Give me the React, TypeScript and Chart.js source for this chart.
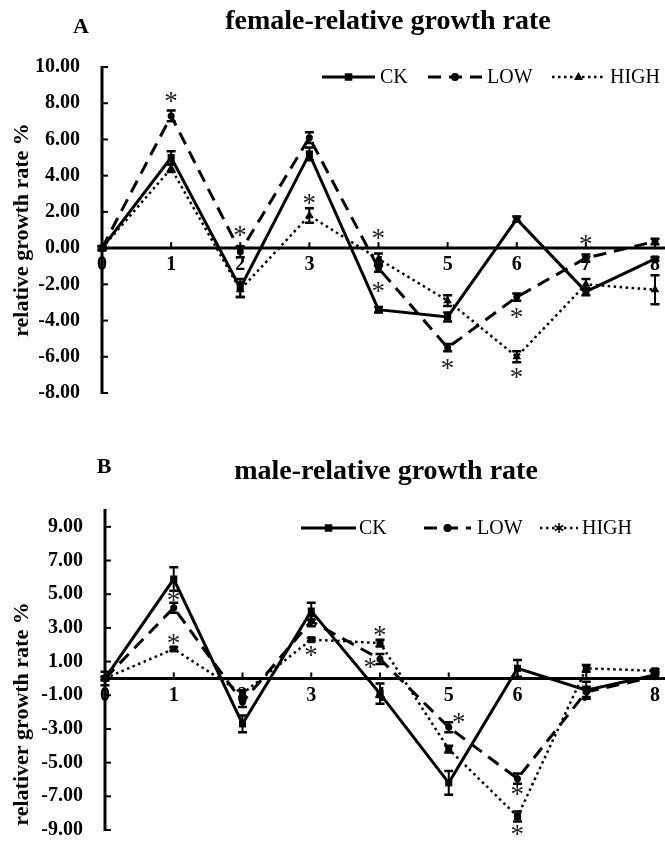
import React, { useEffect, useRef } from 'react';
import { Chart, registerables } from 'chart.js';

Chart.register(...registerables);

// ---------- data ----------
const xValues = [0, 1, 2, 3, 4, 5, 6, 7, 8];
const seriesNames = ['CK', 'LOW', 'HIGH'];

// A: female
const femaleYTicks = [10, 8, 6, 4, 2, 0, -2, -4, -6, -8];
const femaleCK = [0, 5.0, -2.2, 5.2, -3.4, -3.8, 1.6, -2.4, -0.6];
const femaleCKErr = [0.1, 0.35, 0.5, 0.35, 0.15, 0.25, 0.15, 0.2, 0.1];
const femaleLOW = [0, 7.3, -0.2, 6.1, -1.1, -5.5, -2.7, -0.55, 0.37];
const femaleLOWErr = [0.1, 0.3, 0.3, 0.3, 0.2, 0.2, 0.2, 0.2, 0.15];
const femaleHIGH = [0, 4.4, -2.3, 1.8, -0.6, -2.9, -6.0, -2.0, -2.3];
const femaleHIGHErr = [0.1, 0.2, 0.4, 0.4, 0.3, 0.3, 0.3, 0.3, 0.8];
const femaleStarX = [1, 2, 3, 4, 4, 5, 6, 6, 7];
const femaleStarY = [8.3, 0.9, 2.7, 0.75, -2.2, -6.4, -3.6, -6.9, 0.4];

// B: male
const maleYTicks = [9, 7, 5, 3, 1, -1, -3, -5, -7, -9];
const maleCK = [0, 5.9, -2.7, 4.0, -0.9, -6.2, 0.6, -0.7, 0.2];
const maleCKErr = [0.4, 0.7, 0.5, 0.5, 0.6, 0.7, 0.5, 0.5, 0.2];
const maleLOW = [0, 4.2, -1.4, 3.4, 1.15, -2.9, -5.95, -0.8, 0.1];
const maleLOWErr = [0.1, 0.3, 0.3, 0.3, 0.3, 0.3, 0.3, 0.3, 0.1];
const maleHIGH = [0, 1.75, -0.9, 2.3, 2.1, -4.2, -8.2, 0.6, 0.45];
const maleHIGHErr = [0.1, 0.1, 0.2, 0.1, 0.2, 0.2, 0.3, 0.2, 0.1];
const maleStarX = [1, 1, 3, 3.86, 4, 5.15, 6, 6];
const maleStarY = [4.85, 2.3, 1.6, 0.9, 2.8, -2.4, -6.65, -9.0];

const SERIF = "'Liberation Serif', 'Times New Roman', serif";

type PanelCfg = {
  letter: string;
  title: string;
  yTitle: string;
  yTicks: number[];
  yMin: number;
  yMax: number;
  series: number[][];
  errors: number[][];
  markers: string[];
  legendMarkers: string[];
  starX: number[];
  starY: number[];
  layout: {
    padTop: number;
    padBottom: number;
    padRight: number;
    axisWidth: number;
    letterX: number;
    letterY: number;
    titleX: number;
    titleY: number;
    yTitleX: number;
    yTitleY: number;
    legendY: number;
    legend: { start: number; len: number; textX: number }[];
  };
};

const lineStyles = [
  { width: 3, dash: [] as number[] },
  { width: 3, dash: [13, 8] },
  { width: 2.5, dash: [2.5, 3.5] },
];

function drawMarker(ctx: CanvasRenderingContext2D, style: string, x: number, y: number, r: number) {
  ctx.save();
  ctx.fillStyle = '#000';
  ctx.strokeStyle = '#000';
  ctx.setLineDash([]);
  ctx.beginPath();
  if (style === 'rect') {
    const s = r * 0.75;
    ctx.rect(x - s, y - s, 2 * s, 2 * s);
    ctx.fill();
  } else if (style === 'circle') {
    ctx.arc(x, y, r * 0.8, 0, Math.PI * 2);
    ctx.fill();
  } else if (style === 'triangle') {
    ctx.moveTo(x, y - r);
    ctx.lineTo(x + r * 0.9, y + r * 0.6);
    ctx.lineTo(x - r * 0.9, y + r * 0.6);
    ctx.closePath();
    ctx.fill();
  } else if (style === 'star') {
    ctx.lineWidth = 1.5;
    for (let k = 0; k < 3; k++) {
      const a = (k * Math.PI) / 3 + Math.PI / 2;
      ctx.moveTo(x + Math.cos(a) * r, y + Math.sin(a) * r);
      ctx.lineTo(x - Math.cos(a) * r, y - Math.sin(a) * r);
    }
    ctx.stroke();
  }
  ctx.restore();
}

function makeDecor(cfg: PanelCfg) {
  const L = cfg.layout;
  return {
    id: 'decor' + cfg.letter,
    beforeDatasetsDraw(chart: any) {
      const ctx: CanvasRenderingContext2D = chart.ctx;
      const area = chart.chartArea;
      const xs = chart.scales.x;
      const ys = chart.scales.y;
      ctx.save();
      ctx.strokeStyle = '#000';
      ctx.setLineDash([]);
      // y axis line
      ctx.lineWidth = 3;
      ctx.beginPath();
      ctx.moveTo(area.left, ys.getPixelForValue(cfg.yMax) - 1);
      ctx.lineTo(area.left, area.bottom + 1);
      ctx.stroke();
      // y ticks (inside)
      ctx.lineWidth = 2;
      cfg.yTicks.forEach((v) => {
        const py = ys.getPixelForValue(v);
        ctx.beginPath();
        ctx.moveTo(area.left, py);
        ctx.lineTo(area.left + 6, py);
        ctx.stroke();
      });
      // x axis line at 0
      const y0 = ys.getPixelForValue(0);
      ctx.lineWidth = 3;
      ctx.beginPath();
      ctx.moveTo(area.left, y0);
      ctx.lineTo(chart.width, y0);
      ctx.stroke();
      // x ticks (upward)
      ctx.lineWidth = 2;
      xValues.slice(1).forEach((v) => {
        const px = xs.getPixelForValue(v);
        ctx.beginPath();
        ctx.moveTo(px, y0);
        ctx.lineTo(px, y0 - 6);
        ctx.stroke();
      });
      // error bars
      cfg.series.forEach((s, si) => {
        const err = cfg.errors[si];
        s.forEach((v, i) => {
          const px = xs.getPixelForValue(xValues[i]);
          const top = ys.getPixelForValue(v + err[i]);
          const bot = ys.getPixelForValue(v - err[i]);
          ctx.lineWidth = 2;
          ctx.beginPath();
          ctx.moveTo(px, top);
          ctx.lineTo(px, bot);
          ctx.stroke();
          ctx.lineWidth = 2.5;
          ctx.beginPath();
          ctx.moveTo(px - 4.5, top);
          ctx.lineTo(px + 4.5, top);
          ctx.moveTo(px - 4.5, bot);
          ctx.lineTo(px + 4.5, bot);
          ctx.stroke();
        });
      });
      ctx.restore();
    },
    afterDatasetsDraw(chart: any) {
      const ctx: CanvasRenderingContext2D = chart.ctx;
      const xs = chart.scales.x;
      const ys = chart.scales.y;
      ctx.save();
      // asterisks
      ctx.font = `27px ${SERIF}`;
      ctx.fillStyle = '#222';
      ctx.textAlign = 'left';
      ctx.textBaseline = 'alphabetic';
      const m = ctx.measureText('*');
      const gw = m.actualBoundingBoxRight + m.actualBoundingBoxLeft;
      const gh = m.actualBoundingBoxAscent + m.actualBoundingBoxDescent;
      cfg.starX.forEach((sx, i) => {
        const px = xs.getPixelForValue(sx);
        const py = ys.getPixelForValue(cfg.starY[i]);
        ctx.fillText('*', px - gw / 2 + m.actualBoundingBoxLeft, py - gh / 2 + m.actualBoundingBoxAscent);
      });
      // panel letter
      ctx.fillStyle = '#000';
      ctx.font = `bold 22px ${SERIF}`;
      ctx.textAlign = 'center';
      ctx.fillText(cfg.letter, L.letterX, L.letterY);
      // title
      ctx.font = `bold 28px ${SERIF}`;
      ctx.fillText(cfg.title, L.titleX, L.titleY);
      // y title
      ctx.save();
      ctx.translate(L.yTitleX, L.yTitleY);
      ctx.rotate(-Math.PI / 2);
      ctx.font = `bold 22px ${SERIF}`;
      ctx.textBaseline = 'middle';
      ctx.fillText(cfg.yTitle, 0, 0);
      ctx.restore();
      // legend
      ctx.font = `20px ${SERIF}`;
      ctx.textAlign = 'left';
      ctx.textBaseline = 'middle';
      L.legend.forEach((it, i) => {
        const st = lineStyles[i];
        ctx.save();
        ctx.strokeStyle = '#000';
        ctx.lineWidth = st.width;
        ctx.setLineDash(st.dash);
        ctx.beginPath();
        ctx.moveTo(it.start, L.legendY);
        ctx.lineTo(it.start + it.len, L.legendY);
        ctx.stroke();
        ctx.restore();
        drawMarker(ctx, cfg.legendMarkers[i], it.start + it.len / 2, L.legendY, 5);
        ctx.fillStyle = '#000';
        ctx.fillText(seriesNames[i], it.textX, L.legendY + 1);
      });
      ctx.restore();
    },
  };
}

function Panel({ cfg }: { cfg: PanelCfg }) {
  const ref = useRef<HTMLCanvasElement | null>(null);
  useEffect(() => {
    if (!ref.current) return;
    const L = cfg.layout;
    const datasets = cfg.series.map((s, si) => ({
      label: seriesNames[si],
      data: xValues.map((x, i) => ({ x, y: s[i] })),
      borderColor: '#000',
      backgroundColor: '#000',
      borderWidth: lineStyles[si].width,
      borderDash: lineStyles[si].dash,
      pointStyle: cfg.markers[si],
      pointRadius: cfg.markers[si] === 'circle' ? 3.5 : 5,
      pointBackgroundColor: '#000',
      pointBorderColor: '#000',
      pointBorderWidth: 0,
      tension: 0,
      fill: false,
      clip: false as any,
    }));
    const chart = new Chart(ref.current, {
      type: 'line',
      data: { datasets },
      plugins: [makeDecor(cfg)],
      options: {
        animation: false,
        responsive: false,
        devicePixelRatio: 1,
        layout: {
          autoPadding: false,
          padding: { top: L.padTop, bottom: L.padBottom, left: 0, right: L.padRight },
        },
        plugins: {
          legend: { display: false },
          title: { display: false },
          tooltip: { enabled: false },
        },
        scales: {
          x: {
            type: 'linear',
            min: 0,
            max: 8,
            position: { y: 0 } as any,
            afterBuildTicks: (scale: any) => {
              scale.ticks = xValues.map((v) => ({ value: v }));
            },
            ticks: {
              autoSkip: false,
              maxRotation: 0,
              padding: 5,
              color: '#000',
              font: { family: SERIF, size: 20, weight: 'bold' },
              callback: (v: any) => String(v),
            },
            grid: { display: false, drawTicks: false },
            border: { display: false },
          },
          y: {
            type: 'linear',
            min: cfg.yMin,
            max: cfg.yMax,
            afterBuildTicks: (scale: any) => {
              scale.ticks = cfg.yTicks.map((v) => ({ value: v }));
            },
            afterFit: (scale: any) => {
              scale.width = L.axisWidth;
            },
            ticks: {
              autoSkip: false,
              padding: 22,
              color: '#000',
              font: { family: SERIF, size: 20, weight: 'bold' },
              callback: (v: any) => Number(v).toFixed(2),
            },
            grid: { display: false, drawTicks: false },
            border: { display: false },
          },
        },
      } as any,
    });
    return () => chart.destroy();
  }, [cfg]);
  return <canvas ref={ref} width={665} height={432} style={{ display: 'block', width: 665, height: 432 }} />;
}

const panelA: PanelCfg = {
  letter: 'A',
  title: 'female-relative growth rate',
  yTitle: 'relative growth rate %',
  yTicks: femaleYTicks,
  yMin: -8,
  yMax: 10,
  series: [femaleCK, femaleLOW, femaleHIGH],
  errors: [femaleCKErr, femaleLOWErr, femaleHIGHErr],
  markers: ['rect', 'circle', 'triangle'],
  legendMarkers: ['rect', 'circle', 'triangle'],
  starX: femaleStarX,
  starY: femaleStarY,
  layout: {
    padTop: 67,
    padBottom: 39,
    padRight: 3,
    axisWidth: 102,
    letterX: 81,
    letterY: 33,
    titleX: 388,
    titleY: 29,
    yTitleX: 22,
    yTitleY: 230,
    legendY: 77,
    legend: [
      { start: 322, len: 53, textX: 380 },
      { start: 428, len: 54, textX: 487 },
      { start: 552, len: 53, textX: 610 },
    ],
  },
};

const panelB: PanelCfg = {
  letter: 'B',
  title: 'male-relative growth rate',
  yTitle: 'relativer growth rate %',
  yTicks: maleYTicks,
  yMin: -9,
  yMax: 10,
  series: [maleCK, maleLOW, maleHIGH],
  errors: [maleCKErr, maleLOWErr, maleHIGHErr],
  markers: ['rect', 'circle', 'rect'],
  legendMarkers: ['rect', 'circle', 'star'],
  starX: maleStarX,
  starY: maleStarY,
  layout: {
    padTop: 78,
    padBottom: 9,
    padRight: 2,
    axisWidth: 105,
    letterX: 104,
    letterY: 41,
    titleX: 386,
    titleY: 47,
    yTitleX: 22,
    yTitleY: 282,
    legendY: 96,
    legend: [
      { start: 301, len: 55, textX: 359 },
      { start: 424, len: 47, textX: 477 },
      { start: 540, len: 38, textX: 582 },
    ],
  },
};

export default function App() {
  return (
    <div style={{ position: 'absolute', left: 0, top: 0, width: 665, height: 864, background: '#fff' }}>
      <Panel cfg={panelA} />
      <Panel cfg={panelB} />
    </div>
  );
}
